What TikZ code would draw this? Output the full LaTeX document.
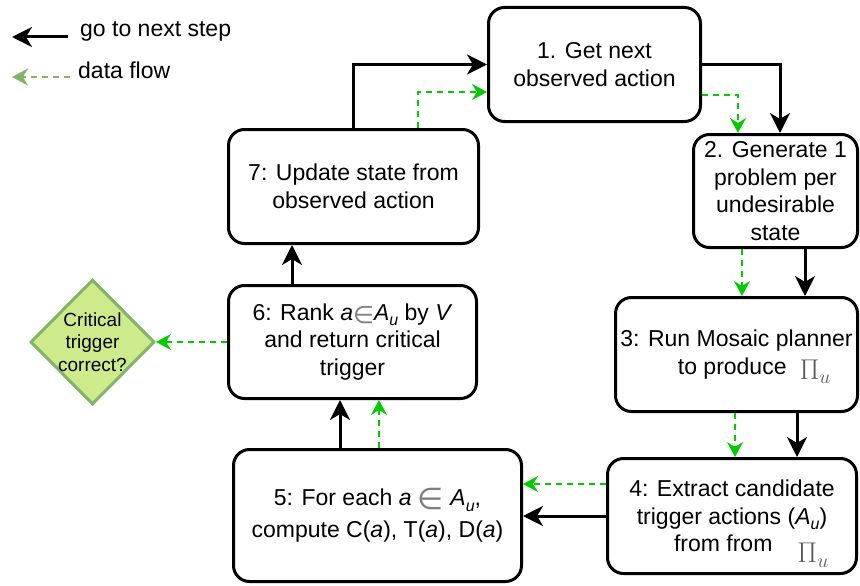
\documentclass[tikz,border=0pt]{standalone}
\usepackage[no-math]{fontspec}
\setmainfont{Liberation Sans}
\newfontfamily\symfont{DejaVu Sans}
\usetikzlibrary{arrows.meta,shapes.geometric,calc}
\definecolor{flowgreen}{HTML}{00CC00}
\definecolor{legendgreen}{HTML}{82B366}
\definecolor{diafill}{HTML}{CDEB8B}
% italic subscript u at a size that suits 23pt text
\newcommand\subu{\raisebox{-0.22em}{\fontsize{16}{16}\selectfont\itshape u}}
% grey "element of" sign at a given size, lowered
\newcommand\elemof[2]{\raisebox{#2}{\textcolor{black!50}{\fontsize{#1}{#1}\symfont ∈}}}
\newcommand\piu{\textcolor{black!65}{\scalebox{1.15}{$\Pi_u$}}}
\begin{document}
\begin{tikzpicture}[x=1pt,y=-1pt,
  stepbox/.style={draw, line width=3pt, rounded corners=16pt, align=center,
    font=\fontsize{23}{27.6}\selectfont, inner sep=0pt},
  flow/.style={line width=3pt, -{Stealth[length=20pt,width=20pt,inset=6pt]}},
  dataflow/.style={line width=2pt, flowgreen, dash pattern=on 6pt off 5pt,
    -{Stealth[length=15pt,width=16pt,inset=5pt]}},
  legendtext/.style={anchor=base west, inner sep=0pt, font=\fontsize{23}{27.6}\selectfont}]
\useasboundingbox (0,0) rectangle (860,586);

% legend
\coordinate (lgA) at (68,37);
\coordinate (lgB) at (12,37);
\coordinate (lgC) at (70,77);
\coordinate (lgD) at (12,77);
\draw[flow] (lgA) -- (lgB);
\draw[line width=2pt, legendgreen, dash pattern=on 6pt off 5pt,
  -{Stealth[length=16pt,width=17pt,inset=5pt]}] (lgC) -- (lgD);
\node[legendtext] (lgt1) at (80,37) {go to next step};
\node[legendtext] (lgt2) at (78,78) {data flow};

% process steps
\node[stepbox, minimum width=212pt, minimum height=114pt] (b1) at (594.5,64.5)
  {1. Get next\\observed action};
\node[stepbox, minimum width=164pt, minimum height=113pt] (b2) at (775.5,191)
  {2. Generate 1\\problem per\\undesirable\\state};
\node[stepbox, minimum width=242pt, minimum height=114pt] (b3) at (736.5,354.5)
  {3: Run Mosaic planner\\\hspace*{36pt}to produce\hspace{13pt}\smash{\raisebox{-5pt}{\piu}}};
\node[stepbox, minimum width=249pt, minimum height=115pt] (b4) at (732,516)
  {4: Extract candidate\\trigger actions (\textit{A}\subu)\\\hspace*{39pt}from from\hspace{25pt}\smash{\raisebox{-11pt}{\piu}}};
\node[stepbox, minimum width=288pt, minimum height=132pt] (b5) at (377.5,515.5)
  {5: For each \textit{a} \elemof{30}{-4pt} \textit{A}\subu,\\[4pt]compute C(\textit{a}), T(\textit{a}), D(\textit{a})};
\node[stepbox, minimum width=248pt, minimum height=113pt] (b6) at (352.5,342)
  {6: Rank \textit{a}\elemof{24}{-3pt}\textit{A}\subu{} by \textit{V}\\and return critical\\trigger};
\node[stepbox, minimum width=250pt, minimum height=114pt] (b7) at (353.5,186.5)
  {7: Update state from\\observed action};

% decision
\node[diamond, aspect=1, draw=legendgreen, fill=diafill, line width=3pt,
  minimum width=124pt, minimum height=125pt, inner sep=-3pt, align=center,
  font=\fontsize{19}{22.5}\selectfont] (dq) at (92.5,342) {Critical\\trigger\\correct?};

% control flow
\draw[flow] (b7.north) |- (b1.west);
\draw[flow] (b1.east) -| ($(b2.north)+(4.5,0)$);
\draw[flow] ($(b2.south)+(29.5,0)$) -- ($(b3.north)+(68.5,0)$);
\draw[flow] ($(b3.south)+(60.5,0)$) -- ($(b4.north)+(65,0)$);
\draw[flow] (b4.west) -- (b4.west -| b5.east);
\draw[flow] ($(b5.north)+(-37.5,0)$) -- ($(b6.south)+(-12.5,0)$);
\draw[flow] ($(b6.north)+(-60.5,0)$) -- ($(b7.south)+(-61.5,0)$);

% data flow
\draw[dataflow] ($(b7.north)+(64.5,0)$) |- ($(b1.west)+(0,27.5)$);
\draw[dataflow] ($(b1.east)+(0,30.5)$) -| ($(b2.north)+(-37.5,0)$);
\draw[dataflow] ($(b2.south)+(-33.5,0)$) -- ($(b3.north)+(5.5,0)$);
\draw[dataflow] ($(b3.south)+(-1.5,0)$) -- ($(b4.north)+(3,0)$);
\draw[dataflow] ($(b4.west)+(0,-32)$) -- ($(b5.east)+(0,-31.5)$);
\draw[dataflow] ($(b5.north)+(1.5,0)$) -- ($(b6.south)+(26.5,0)$);
\draw[dataflow] (b6.west) -- (dq.east);
\end{tikzpicture}
\end{document}
